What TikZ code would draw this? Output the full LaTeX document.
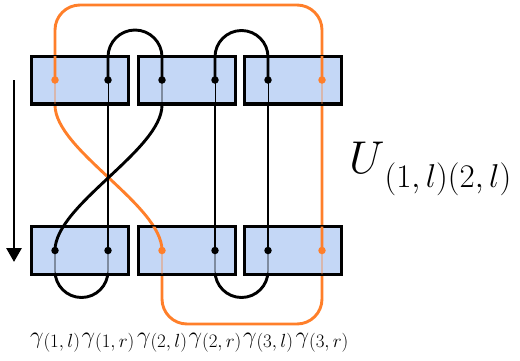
\RequirePackage{fix-cm}
\documentclass[tikz,border=0pt]{standalone}
\usepackage{amsmath}
\usetikzlibrary{arrows.meta}
\definecolor{tenblue}{RGB}{196,215,246}
\definecolor{tenorange}{RGB}{255,127,42}
\newcommand{\mpssub}[3]{\raisebox{#1}{\fontsize{#2}{#2}\selectfont$#3$}}
\tikzset{
 mps strand/.style={line width=2.9pt,black},
 mps orange/.style={line width=2.9pt,tenorange},
 mps thin/.style={line width=0.8pt},
 mps box/.style={rectangle,draw=black,fill=tenblue,line width=3.4pt,
                 minimum width=96.6pt,minimum height=47.6pt,inner sep=0pt},
 mps dot/.style={circle,inner sep=0pt,minimum size=7.5pt},
 mps site label/.style={font=\fontsize{24}{26}\selectfont,anchor=base,inner sep=0pt},
 mps time/.style={line width=2.8pt,-{Triangle[length=14pt,width=15pt]}}
}
% all strand paths, drawn with extra options #1
\newcommand{\mpsstrands}[1]{%
 \draw[mps orange,#1,rounded corners=25pt]
   (bA2) -- (162,324) -- (322,324) -- (322,5) -- (55,5) -- (tA1);
 \draw[mps orange,#1] (tA1) -- (55,105) .. controls (55,150) and (162,205) .. (bA2);
 \draw[mps strand,#1] (tA2) -- (162,105) .. controls (162,150) and (55,205) .. (bA1);
 \draw[mps strand,#1] (tB1) -- (bB1);
 \draw[mps strand,#1] (tB2) -- (bB2);
 \draw[mps strand,#1] (tA3) -- (bA3);
 \draw[mps strand,#1] (tB1) -- (108,57) arc[start angle=180,end angle=0,radius=27pt] -- (tA2);
 \draw[mps strand,#1] (tB2) -- (215,57) arc[start angle=180,end angle=0,radius=26.5pt] -- (tA3);
 \draw[mps strand,#1] (bA1) -- (55,271) arc[start angle=180,end angle=360,radius=26.5pt] -- (bB1);
 \draw[mps strand,#1] (bB2) -- (215,271) arc[start angle=180,end angle=360,radius=26.5pt] -- (bA3);
}
\begin{document}
\begin{tikzpicture}[x=1pt,y=-1pt]
 \useasboundingbox (0,0) rectangle (520,360);
 % legs of the tensors
 \foreach \x/\n in {55/A1,108/B1,162/A2,215/B2,268/A3,322/B3}{
   \coordinate (t\n) at (\x,80);
   \coordinate (b\n) at (\x,250.5);
 }
 \mpsstrands{}
 % tensors
 \foreach \i/\x in {1/80,2/187,3/293}{
   \node[mps box] (t\i) at (\x,80) {};
   \node[mps box] (b\i) at (\x,250.5) {};
 }
 \begin{scope}
   \clip \foreach \b in {t1,t2,t3,b1,b2,b3}{
     ([xshift=1.7pt,yshift=-1.7pt]\b.north west) rectangle ([xshift=-1.7pt,yshift=1.7pt]\b.south east)};
   \mpsstrands{mps thin}
 \end{scope}
 \begin{scope}
   \clip \foreach \b in {t1,t2,t3,b1,b2,b3}{
     ([xshift=1.7pt,yshift=-1.7pt]\b.north west) rectangle (\b.east)};
   \mpsstrands{}
 \end{scope}
 \foreach \n in {B1,A2,B2,A3}{\node[mps dot,fill=black] at (t\n) {};}
 \foreach \n in {A1,B1,B2,A3}{\node[mps dot,fill=black] at (b\n) {};}
 \foreach \n in {tA1,tB3,bA2,bB3}{\node[mps dot,fill=tenorange] at (\n) {};}
 % time direction
 \coordinate (tstart) at (14,80);
 \coordinate (tend) at (14,262);
 \draw[mps time] (tstart) -- (tend);
 % labels
 \foreach \x/\i/\s in {55/1/l,108/1/r,162/2/l,215/2/r,268/3/l,322/3/r}{
   \node[mps site label] (g\i\s) at (\x,343.5) {$\gamma$\mpssub{-3.5pt}{19}{(\i,\s)}};
 }
 \node[font=\fontsize{46}{50}\selectfont,anchor=base west,inner sep=0pt] (ulabel) at (349,173)
   {$U$\mpssub{-14pt}{33}{(1,l)(2,l)}};
\end{tikzpicture}
\end{document}
